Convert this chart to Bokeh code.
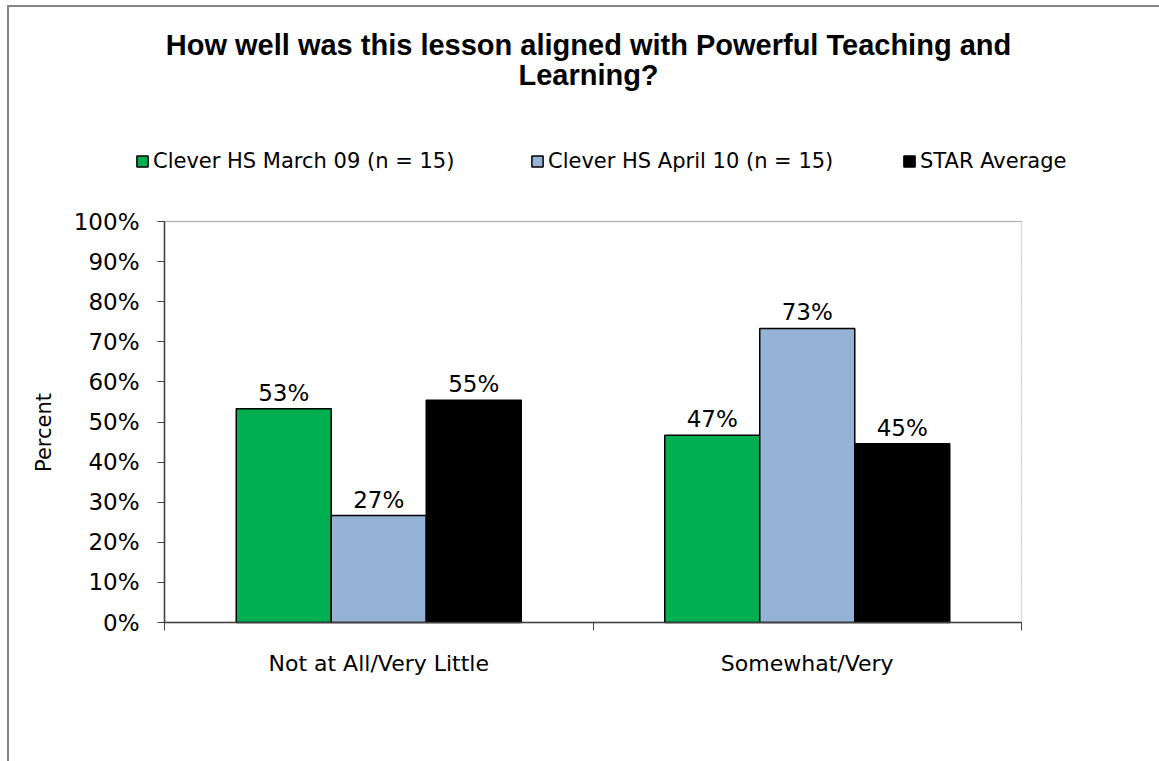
import math
from bokeh.plotting import figure
from bokeh.models import (ColumnDataSource, Legend, LegendItem, Label, FixedTicker,
                          PrintfTickFormatter, BoxAnnotation, Grid)
from bokeh.transform import dodge
from bokeh.core.properties import value
from bokeh.embed import file_html
from bokeh.resources import INLINE

# ---- data ----
categories = ["Not at All/Very Little", "Somewhat/Very"]
series_names = ["Clever HS March 09 (n = 15)", "Clever HS April 10 (n = 15)", "STAR Average"]
march09 = [53.33, 46.67]
april10 = [26.67, 73.33]
star_avg = [55.4, 44.6]
y_ticks = [0, 10, 20, 30, 40, 50, 60, 70, 80, 90, 100]
title_lines = ["How well was this lesson aligned with Powerful Teaching and", "Learning?"]
y_title = "Percent"

colors = ["#00B050", "#95B3D7", "#000000"]

FONT = "DejaVu Sans"
TITLE_FONT = "Liberation Sans"

# ---- layout (page pixels) ----
W, H = 1159, 761
PL, PR, PT, PB = 164, 1021, 221, 622      # plot area box
n = len(categories)
ymax = y_ticks[-1]
xs = (PR - PL) / n
ys = (PB - PT) / ymax
x_range = (-PL / xs, n + (W - PR) / xs)
y_range = (-(H - PB) / ys, ymax + PT / ys)

x_center = [i + 0.5 for i in range(n)]
src = ColumnDataSource(dict(
    xc=x_center,
    s0=march09, s1=april10, s2=star_avg,
    l0=[f"{round(v)}%" for v in march09],
    l1=[f"{round(v)}%" for v in april10],
    l2=[f"{round(v)}%" for v in star_avg],
))

p = figure(width=W, height=H, output_backend="svg", toolbar_location=None,
           x_range=x_range, y_range=y_range,
           min_border=0, min_border_left=0, min_border_right=0, min_border_top=0,
           min_border_bottom=0, background_fill_color=None, border_fill_color=None)
p.styles = {
    "background": "linear-gradient(#868686, #868686) 7px 5px / 2px 100% no-repeat, "
                  "linear-gradient(#868686, #868686) 7px 5px / 100% 2px no-repeat, white"
}
p.outline_line_color = None

# plot-area box (white fill, grey border)
p.add_layout(BoxAnnotation(left=0, right=n, bottom=0, top=ymax, fill_color="white",
                           fill_alpha=1, line_color="#868686", line_width=1.5,
                           level="underlay"))

bw = 0.2217
offsets = [-bw, 0.0, bw]
renderers = []
for k in range(3):
    r = p.vbar(x=dodge("xc", offsets[k], range=p.x_range), top=f"s{k}", width=bw, bottom=0,
               source=src, fill_color=colors[k], line_color="black", line_width=1.5)
    renderers.append(r)
    p.text(x=dodge("xc", offsets[k], range=p.x_range), y=f"s{k}", text=f"l{k}", source=src,
           text_align="center", text_baseline="alphabetic", y_offset=-16,
           text_font=value(FONT), text_font_size="23px", text_color="black")

# grid
p.xgrid.visible = False
p.ygrid.grid_line_color = "#868686"
p.ygrid.grid_line_width = 1
p.ygrid.ticker = FixedTicker(ticks=y_ticks)
p.ygrid.bounds = (0, ymax)
if "cross_bounds" in Grid.properties():
    p.ygrid.cross_bounds = (0, n)

# y axis
p.yaxis.fixed_location = 0
p.yaxis.bounds = (0, ymax)
p.yaxis.ticker = FixedTicker(ticks=y_ticks)
p.yaxis.formatter = PrintfTickFormatter(format="%d%%")
p.yaxis.major_tick_in = 0
p.yaxis.major_tick_out = 7
p.yaxis.minor_tick_line_color = None
p.yaxis.major_label_standoff = 18
p.yaxis.major_label_text_font = FONT
p.yaxis.major_label_text_font_size = "23px"
p.yaxis.major_label_text_color = "black"
p.yaxis.axis_line_color = "#404040"
p.yaxis.major_tick_line_color = "#404040"
p.yaxis.axis_line_width = 1.5

# y axis title
p.add_layout(Label(x=43, y=H - 432, x_units="screen", y_units="screen", text=y_title,
                   angle=math.pi / 2, text_align="center", text_baseline="middle",
                   text_font=FONT, text_font_size="21px", text_color="black"))

# x axis: labels at category centres, ticks at category boundaries
p.xaxis.fixed_location = 0
p.xaxis.bounds = (0, n)
p.xaxis.ticker = FixedTicker(ticks=x_center, minor_ticks=list(range(n + 1)))
p.xaxis.major_label_overrides = {x_center[i]: categories[i] for i in range(n)}
p.xaxis.major_tick_in = 0
p.xaxis.major_tick_out = 0
p.xaxis.minor_tick_in = 0
p.xaxis.minor_tick_out = 8
p.xaxis.minor_tick_line_color = "#404040"
p.xaxis.major_label_standoff = 20
p.xaxis.major_label_text_font = FONT
p.xaxis.major_label_text_font_size = "22px"
p.xaxis.major_label_text_color = "black"
p.xaxis.axis_line_color = "#404040"
p.xaxis.axis_line_width = 1.5

# title (screen units: origin at bottom-left of the canvas-sized frame)
TX = 588
for line, base in zip(title_lines, [44, 74]):
    p.add_layout(Label(x=TX, y=H - base, x_units="screen", y_units="screen", text=line,
                       text_align="center", text_baseline="alphabetic", text_font=TITLE_FONT,
                       text_font_style="bold", text_font_size="29px", text_color="black"))

# legends, one per series, placed where the reference shows them
leg_x = [135, 530, 902]
for k in range(3):
    leg = Legend(items=[LegendItem(label=series_names[k], renderers=[renderers[k]])],
                 location=(leg_x[k], H - 173), orientation="horizontal",
                 glyph_width=14, glyph_height=14, label_standoff=4, padding=0, margin=0,
                 spacing=0, border_line_alpha=0, background_fill_alpha=0,
                 label_text_font=FONT, label_text_font_size="21px", label_text_color="black",
                 label_height=14)
    p.add_layout(leg)

open("out.html", "w").write(file_html(p, INLINE))
